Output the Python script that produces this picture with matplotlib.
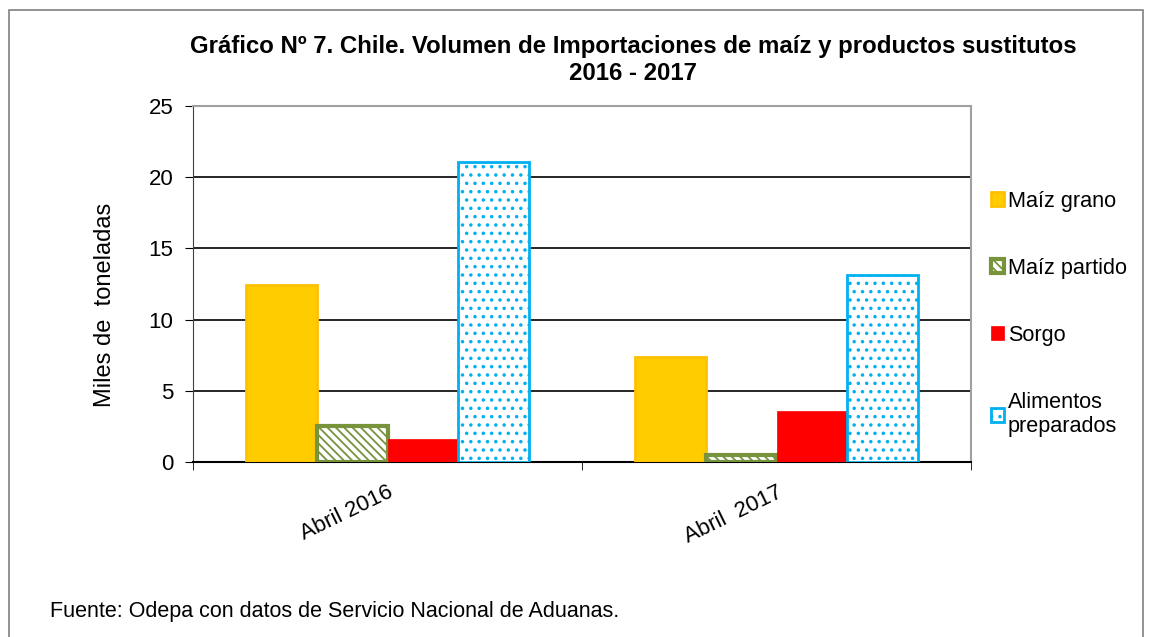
import numpy as np
import matplotlib.pyplot as plt
from matplotlib.patches import Rectangle

plt.rcParams['font.family'] = ['Liberation Sans', 'DejaVu Sans']
plt.rcParams['hatch.linewidth'] = 1.3

# datos (miles de toneladas)
periodos = ['Abril 2016', 'Abril  2017']
series = ['Maíz grano', 'Maíz partido', 'Sorgo', 'Alimentos\npreparados']
maiz_grano = [12.4, 7.4]
maiz_partido = [2.55, 0.5]
sorgo = [1.6, 3.55]
alimentos = [21.05, 13.1]

fig = plt.figure(figsize=(11.51, 6.37), dpi=100)
ax = fig.add_axes([193/1151, 1-462/637, 778/1151, 356/637])

x = np.arange(len(periodos))
w = 0.1825
off = [-1.5*w, -0.5*w, 0.5*w, 1.5*w]

b1 = ax.bar(x + off[0], maiz_grano, w, color='#FFCC00', edgecolor='#FFC000', linewidth=2, label=series[0], zorder=3)
b2 = ax.bar(x + off[1], maiz_partido, w, color='white', edgecolor='#77933C', hatch='\\\\\\\\', linewidth=3, label=series[1], zorder=3)
b3 = ax.bar(x + off[2], sorgo, w, color='#FF0000', edgecolor='#FF0000', linewidth=0.5, label=series[2], zorder=3)
b4 = ax.bar(x + off[3], alimentos, w, color='white', edgecolor='#00B0F0', hatch='..', linewidth=2, label=series[3], zorder=3)

ax.set_xlim(-0.5, 1.5)
ax.set_ylim(0, 25)
ax.set_yticks([0, 5, 10, 15, 20, 25])
ax.yaxis.grid(True, color='black', linewidth=1.2, zorder=0)
ax.set_axisbelow(True)
ax.tick_params(axis='y', labelsize=16, length=6, color='black', pad=8)

ax.set_xticks(x)
ax.set_xticklabels(periodos, rotation=26, ha='right', rotation_mode='anchor', fontsize=16)
ax.tick_params(axis='x', which='major', length=0, pad=14)
ax.set_xticks([-0.5, 0.5, 1.5], minor=True)
ax.tick_params(axis='x', which='minor', length=6, color='black')

for s in ['top', 'right']:
    ax.spines[s].set_color('#A0A0A0')
    ax.spines[s].set_linewidth(1.5)
ax.spines['left'].set_color('#404040')
ax.spines['bottom'].set_color('black')
ax.spines['bottom'].set_linewidth(1.5)

ax.set_ylabel('Miles de  toneladas', fontsize=17)
ax.yaxis.set_label_coords(-77/778, (462-305)/356)

fig.text(633/1151, 1-47/637, 'Gráfico Nº 7. Chile. Volumen de Importaciones de maíz y productos sustitutos',
         ha='center', va='center', fontsize=17.3, fontweight='bold')
fig.text(633/1151, 1-74/637, '2016 - 2017', ha='center', va='center', fontsize=17.3, fontweight='bold')

fig.legend(handles=[b1, b2, b3, b4], labels=series, loc='upper left',
           bbox_to_anchor=(971/1151, 1-171/637), frameon=False, fontsize=15.6,
           handlelength=0.6, handleheight=0.6, handletextpad=0.2, labelspacing=2.13)

fig.text(50/1151, 1-611/637, 'Fuente: Odepa con datos de Servicio Nacional de Aduanas.', ha='left', va='center', fontsize=15.5)

fig.patches.append(Rectangle((9/1151, -0.05), (1143-9)/1151, (1-10/637)+0.05, transform=fig.transFigure,
                             fill=False, edgecolor='#808080', linewidth=1.2))

fig.savefig('out.png', dpi=100)
